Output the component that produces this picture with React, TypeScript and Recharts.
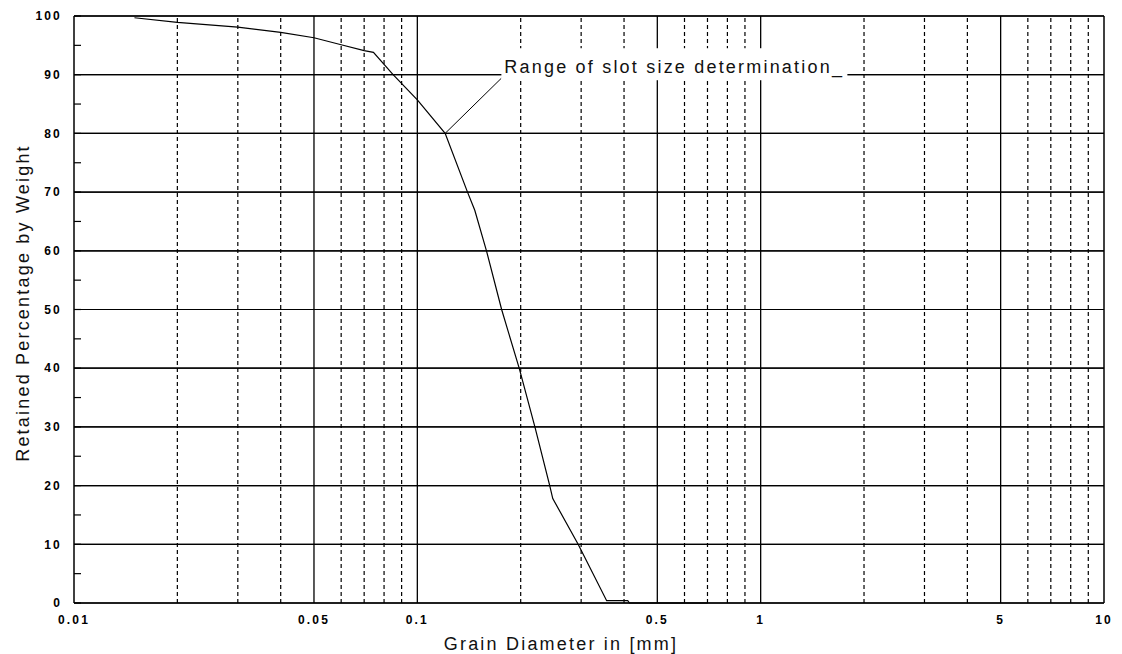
import React from 'react';
import {
    ComposedChart, Line, XAxis, YAxis, CartesianGrid, ReferenceLine, ReferenceDot,
} from 'recharts';

// grain size distribution (sieve curve)
const grainSizes = [0.015, 0.02, 0.03, 0.04, 0.05, 0.06, 0.07, 0.0745, 0.085, 0.1, 0.1205, 0.14, 0.147, 0.159, 0.176, 0.198, 0.22, 0.243, 0.248, 0.294, 0.356, 0.41, 0.415, 0.7];
const retained = [99.7, 98.9, 98.1, 97.2, 96.3, 95.1, 94.1, 93.8, 90, 85.7, 80, 70, 66.9, 60, 50, 40, 30, 20, 17.8, 10, 0.4, 0.4, 0, 0];

const xTicks = [0.01, 0.05, 0.1, 0.5, 1, 5, 10];
const yTicks = [0, 10, 20, 30, 40, 50, 60, 70, 80, 90, 100];
const yMinorTicks = [5, 15, 25, 35, 45, 55, 65, 75, 85, 95];
const solidVerticals = [0.05, 0.1, 0.5, 1, 5];
const dashedVerticals = [0.02, 0.03, 0.04, 0.06, 0.07, 0.08, 0.09, 0.2, 0.3, 0.4, 0.6, 0.7, 0.8, 0.9, 2, 3, 4, 6, 7, 8, 9];

// annotation: leader from the curve point to the caption
const leaderFrom = { x: 0.1205, y: 80 };
const leaderTo = { x: 0.1757, y: 89.4 };
const caption = 'Range of slot size determination_';

const data = grainSizes.map((d, i) => ({ d, r: retained[i] }));
const allYTicks = [...yTicks, ...yMinorTicks].sort((a, b) => a - b);

const FONT = '"Liberation Sans", Arial, sans-serif';
const tickStyle = { fontSize: 12, fontWeight: 'bold', fill: '#000', fontFamily: FONT, letterSpacing: 2.2 } as any;
const textStyle = { fontSize: 18, fill: '#111', fontFamily: FONT, letterSpacing: 2.2 } as any;

const CaptionLabel = (p: any) => {
    const x = p.viewBox.x + 3;
    const y = p.viewBox.y - 5;
    return (
        <g>
            {/* the caption blanks out the grid behind it */}
            <rect x={x - 3} y={y - 25} width={346} height={32} fill="#fff" />
            <text x={x} y={y} textAnchor="start" {...textStyle}>{caption}</text>
        </g>
    );
};

const App: React.FC = () => {
    return (
        <div style={{ position: 'absolute', left: 0, top: 0, background: '#fff' }}>
            <ComposedChart
                width={1122}
                height={654}
                data={data}
                margin={{ top: 16, right: 18, left: 14, bottom: 4 }}
            >
                <CartesianGrid yAxisId="main" horizontal vertical={false} stroke="#000" strokeWidth={1.2} horizontalValues={yTicks} />
                <XAxis
                    dataKey="d"
                    type="number"
                    scale="log"
                    domain={[0.01, 10]}
                    ticks={xTicks}
                    allowDataOverflow
                    height={47}
                    tickLine={false}
                    tickSize={6}
                    tickMargin={6}
                    axisLine={{ stroke: '#000', strokeWidth: 1.5 }}
                    tick={tickStyle}
                    tickFormatter={(v) => String(v)}
                    label={{
                        content: () => (
                            <text x={561} y={650} textAnchor="middle" {...textStyle}>Grain Diameter in [mm]</text>
                        ),
                    }}
                />
                <YAxis
                    yAxisId="main"
                    orientation="left"
                    width={60}
                    domain={[0, 100]}
                    ticks={allYTicks}
                    interval={0}
                    tickSize={-7}
                    tickMargin={19}
                    tickLine={{ stroke: '#000', strokeWidth: 1.2 }}
                    axisLine={{ stroke: '#000', strokeWidth: 1.5 }}
                    tick={tickStyle}
                    tickFormatter={(v) => (v % 10 === 0 ? String(v) : '')}
                    label={{
                        content: () => (
                            <text x={29} y={303} textAnchor="middle" transform="rotate(-90, 29, 303)" {...textStyle}>
                                Retained Percentage by Weight
                            </text>
                        ),
                    }}
                />
                {yTicks.slice(1, -1).map((v) => (
                    <ReferenceLine key={`h-${v}`} yAxisId="main" y={v} stroke="#000" strokeWidth={1.2} />
                ))}
                {dashedVerticals.map((v) => (
                    <ReferenceLine key={`d-${v}`} yAxisId="main" x={v} stroke="#000" strokeWidth={1.2} strokeDasharray="4 3" />
                ))}
                {solidVerticals.map((v) => (
                    <ReferenceLine key={`s-${v}`} yAxisId="main" x={v} stroke="#000" strokeWidth={1.3} />
                ))}
                <ReferenceLine yAxisId="main" x={10} stroke="#000" strokeWidth={1.5} />
                <ReferenceLine yAxisId="main" y={100} stroke="#000" strokeWidth={1.5} />
                <ReferenceDot
                    yAxisId="main"
                    x={leaderTo.x}
                    y={leaderTo.y}
                    r={0}
                    fill="none"
                    stroke="none"
                    label={{ content: CaptionLabel }}
                />
                <ReferenceLine
                    yAxisId="main"
                    segment={[leaderFrom, leaderTo]}
                    stroke="#000"
                    strokeWidth={1}
                />
                <Line
                    yAxisId="main"
                    type="linear"
                    dataKey="r"
                    stroke="#000"
                    strokeWidth={1.2}
                    dot={false}
                    isAnimationActive={false}
                />
            </ComposedChart>
        </div>
    );
};

export default App;
